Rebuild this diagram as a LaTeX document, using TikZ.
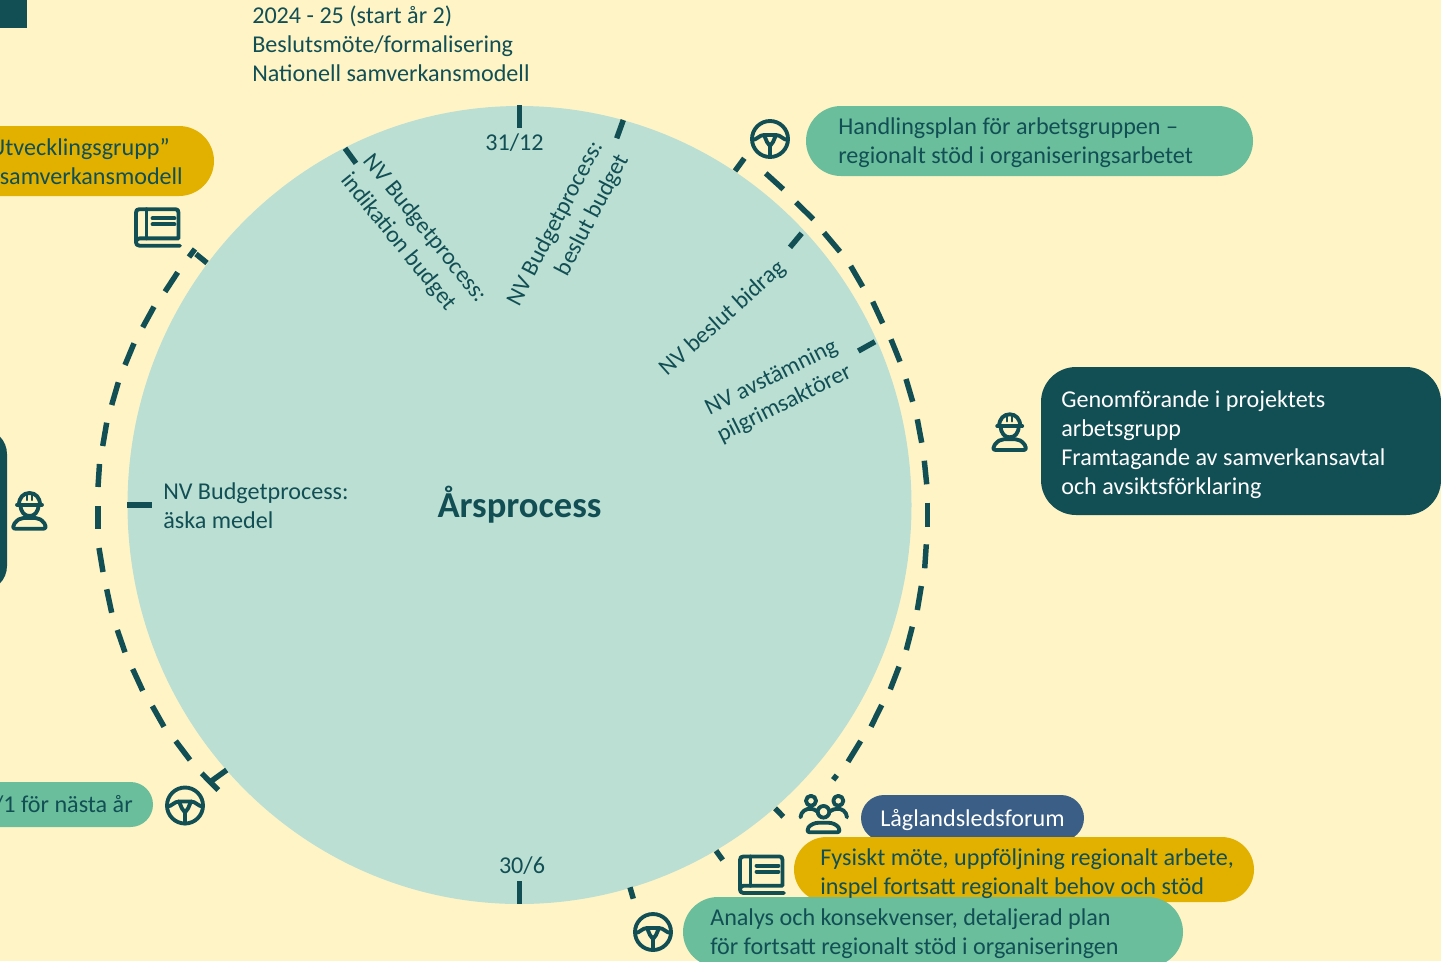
\documentclass[tikz,border=0pt]{standalone}
\usepackage{fontspec}
\usetikzlibrary{shapes.geometric}
\setmainfont{Carlito}
\definecolor{bgc}{HTML}{FFF4C6}
\definecolor{disc}{HTML}{BBDFD3}
\definecolor{dark}{HTML}{114F55}
\definecolor{gold}{HTML}{E2B100}
\definecolor{mint}{HTML}{6ABE9C}
\definecolor{navy}{HTML}{3A5E85}
\tikzset{
  x=0.75pt,y=-0.75pt,
  txt/.style={text=dark,inner sep=0pt,font=\fontsize{18.1}{21.75}\selectfont,align=left},
  rottxt/.style={txt,font=\fontsize{17.8}{21.75}\selectfont},
  whitetxt/.style={txt,text=white},
  pillbox/.style={draw=none,inner sep=0pt,outer sep=0pt},
  tick/.style={draw=dark,line width=4.1pt,line cap=butt},
  icon/.style={draw=dark,line width=2.9pt,line cap=round,line join=round,fill=none},
  wheel/.pic={
    \draw[icon] (0,0) circle (18);
    \draw[icon] (-18,1) .. controls (-13,1) and (-11,-4) .. (-6,-4) -- (6,-4) .. controls (11,-4) and (13,1) .. (18,1);
    \draw[icon] (-6,-4) -- (-3,3) -- (0,7) -- (3,3) -- (6,-4);
    \draw[icon] (0,7) -- (0,18);
  },
  book/.pic={
    \draw[icon] (45.5,38) -- (5,38) .. controls (2.5,38) and (1.5,36.5) .. (1.5,34.5) -- (1.5,5) .. controls (1.5,2.5) and (2.5,1.5) .. (5,1.5) -- (41,1.5) .. controls (43,1.5) and (44,2.5) .. (44,5) -- (44,30.7) -- (5,30.7) .. controls (2.5,30.7) and (1.5,32.5) .. (1.5,34.5);
    \draw[icon] (12,1.5) -- (12,30.7);
    \draw[icon] (18,10.7) -- (40,10.7);
    \draw[icon] (18,16.7) -- (40,16.7);
  },
  worker/.pic={
    \draw[icon] (7.5,13.7) .. controls (7.5,6.5) and (12,2) .. (18,2) .. controls (24,2) and (28.5,6.5) .. (28.5,13.7);
    \draw[icon] (5.5,13.7) -- (30.5,13.7);
    \draw[icon] (9,13.7) .. controls (9,21) and (13,25) .. (18,25) .. controls (23,25) and (27,21) .. (27,13.7);
    \draw[icon,line width=1.8pt] (15.5,4) -- (15.5,9);
    \draw[icon,line width=1.8pt] (20.5,4) -- (20.5,9);
    \draw[icon] (3.5,37.7) -- (32,37.7) .. controls (35,37.7) and (34.5,34) .. (33,32.5) .. controls (30,28.5) and (27,27) .. (24,27) -- (12,27) .. controls (9,27) and (6,28.5) .. (3,32.5) .. controls (1.5,34) and (1,37.7) .. (3.5,37.7);
  },
  people/.pic={
    \draw[icon] (12,6.5) circle (5);
    \draw[icon] (39.3,6.5) circle (5);
    \draw[icon] (24.5,17.5) circle (5.8);
    \draw[icon] (1.5,23) .. controls (2,17) and (7,14) .. (12,14.5) .. controls (14,14.5) and (16,15.5) .. (18,17);
    \draw[icon] (48,23) .. controls (47.5,17) and (42.5,14) .. (38,14.5) .. controls (36,14.5) and (33,15.5) .. (31,17);
    \draw[icon] (11,38) -- (38,38) .. controls (41,38) and (41,35) .. (39.5,33) .. controls (37,30) and (33,28.5) .. (30,28.5) -- (19,28.5) .. controls (16,28.5) and (12,30) .. (9.5,33) .. controls (8,35) and (8,38) .. (11,38);
  },
}
\newcommand{\pillshape}[7]{% name x0 y0 x1 y1 r colour
  \pgfmathsetmacro{\pw}{(#4-#2)*0.75}\pgfmathsetmacro{\ph}{(#5-#3)*0.75}\pgfmathsetmacro{\pr}{#6*0.75}
  \node[pillbox,fill=#7,minimum width=\pw pt,minimum height=\ph pt,rounded corners=\pr pt] (#1) at ({(#2+#4)/2},{(#3+#5)/2}) {};
}
\begin{document}
\begin{tikzpicture}
\useasboundingbox (0,0) rectangle (1441,961);
\clip (0,0) rectangle (1441,961);
\fill[bgc] (0,0) rectangle (1441,961);
\fill[dark] (0,0) rectangle (27,28);

\node[ellipse,fill=disc,inner sep=0pt,outer sep=0pt,minimum width=588pt,minimum height=598.5pt,text=dark,font=\fontsize{27.4}{30}\selectfont\bfseries] (year) at (519.5,505) {Årsprocess};

% radial ticks
\foreach \xa/\ya/\xb/\yb in {519.7/105/519.7/128, 345/148.3/356/163.3, 623.3/120/616.7/138.3, 801.7/233.3/790/247.3, 875/341.7/858.3/351, 127/505/152/505, 519.7/881/519.7/904, 226.7/770/210/782, 207/263/196/254}
  \draw[tick] (\xa,\ya) -- (\xb,\yb);

% left arc dashes
\foreach \xa/\ya/\xb/\yb in {189/257/195/249, 177.7/272.3/165/291.7, 154/306.7/142.7/327.3, 134/343.3/125/365, 118.3/382.3/111.7/405, 106.7/422.7/102.7/446, 99.5/464/98/487, 98/506/98/529, 99/548/103/572, 106.7/589.3/111.7/612.7, 117.3/630/125/652.3, 132.7/669/142.7/690.7, 152.3/706/164/726.7, 175.7/741/190/760, 201.7/773.3/218.3/790}
  \draw[tick] (\xa,\ya) -- (\xb,\yb);

% right arc dashes
\foreach \xa/\ya/\xb/\yb in {744.3/158.3/735/171, 765.7/173.3/783.3/189.3, 796/202.3/813.3/219.3, 824/232.7/840/251.7, 850.7/266/862.7/286.7, 872.7/301.7/882.7/323.3, 891/339.3/900/361.7, 906/379/912.7/401.7, 917.3/419.3/921.7/442.7, 924.3/460.7/926.7/484.3, 927.7/502.7/927.7/526.7, 926.3/544.3/924.7/568.3, 921.3/586/917.3/610, 912.3/626.7/906.3/650, 899/666.7/890.3/689.3, 881.7/705/871/726.7, 860.7/741/848/761.7, 836.8/775.2/833.2/779.8, 775/808.3/783.3/816.7, 716/850.7/722.7/860, 630/887.3/633.3/898.7}
  \draw[tick] (\xa,\ya) -- (\xb,\yb);

% pills
\pillshape{plan}{806}{106}{1253}{176}{35}{mint}
\pillshape{utv}{-120}{126}{214}{196}{35}{gold}
\pillshape{genom}{1041}{367}{1441}{515}{35}{dark}
\pillshape{leftdark}{-120}{429}{7}{591}{25}{dark}
\pillshape{next}{-120}{782}{153}{827}{22.5}{mint}
\pillshape{lag}{861}{795}{1084}{841}{23}{navy}
\pillshape{fys}{794}{837}{1254}{902}{32.5}{gold}
\pillshape{ana}{683}{897}{1183}{967}{35}{mint}

% pill texts
\node[txt,anchor=west] (plantxt) at (838,143) {Handlingsplan för arbetsgruppen –\\regionalt stöd i organiseringsarbetet};
\node[txt,anchor=base east] (utvtxta) at (170,155) {Utvecklingsgrupp”};
\node[txt,anchor=base east] (utvtxtb) at (183,184) {samverkansmodell};
\node[whitetxt,anchor=west] (genomtxt) at (1061,445) {Genomförande i projektets\\arbetsgrupp\\Framtagande av samverkansavtal\\och avsiktsförklaring};
\node[txt,anchor=base east] (nexttxt) at (133,812) {/1 för nästa år};
\node[whitetxt,anchor=west] (lagtxt) at (880,820.5) {Låglandsledsforum};
\node[txt,anchor=west] (fystxt) at (820,873.5) {Fysiskt möte, uppföljning regionalt arbete,\\inspel fortsatt regionalt behov och stöd};
\node[txt,anchor=west] (anatxt) at (710,934) {Analys och konsekvenser, detaljerad plan\\för fortsatt regionalt stöd i organiseringen};

% free labels
\node[txt,anchor=west] (top) at (252,43.5) {2024 - 25 (start år 2)\\Beslutsmöte/formalisering\\Nationell samverkansmodell};
\node[txt] (d3112) at (514.5,143) {31/12};
\node[txt] (d306) at (522,866) {30/6};
\node[txt,anchor=west] (aska) at (163,506) {NV Budgetprocess:\\äska medel};
\node[rottxt,rotate=-51,anchor=center] (indik) at (413.5,238) {NV Budgetprocess:\\indikation budget};
\node[rottxt,rotate=62.5,align=right,anchor=center] (beslut) at (568.5,230.5) {NV Budgetprocess:\\beslut budget};
\node[rottxt,rotate=42,anchor=center] (bidrag) at (723,318.5) {NV beslut bidrag};
\node[rottxt,rotate=26.5,align=center,anchor=center] (avst) at (778,391) {NV avstämning\\pilgrimsaktörer};

% icons
\pic at (770,139) {wheel};
\pic at (185,805.5) {wheel};
\pic at (653,932) {wheel};
\pic at (134.5,207.7) {book};
\pic at (738.5,855) {book};
\pic at (991.7,412.3) {worker};
\pic at (11.5,491) {worker};
\pic at (799,794.3) {people};
\end{tikzpicture}
\end{document}
